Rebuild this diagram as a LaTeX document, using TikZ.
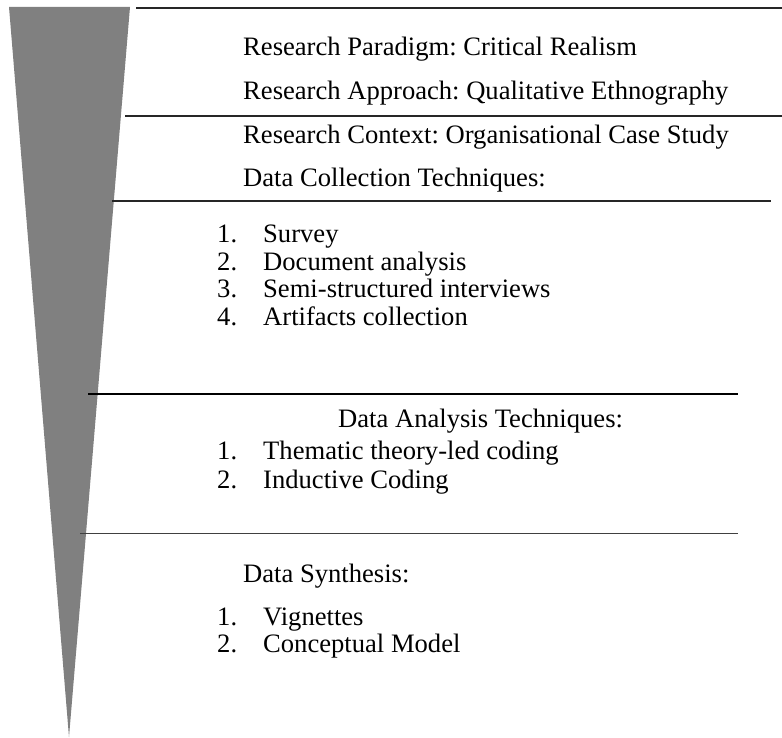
\documentclass[tikz,border=0pt]{standalone}
\usepackage{fontspec}
\setmainfont{Liberation Serif}
\frenchspacing
\begin{document}
\begin{tikzpicture}[x=1pt,y=-1pt,
  txt/.style={anchor=base west,inner sep=0pt,font=\fontsize{26.6}{30}\selectfont},
  rule/.style={line width=1.3pt,draw=black!85},
  heavyrule/.style={line width=2.2pt,draw=black},
  softrule/.style={line width=1.5pt,draw=black!75}]
\useasboundingbox (0,0) rectangle (782,738);

% narrowing wedge on the left
\fill[gray] (9,7) -- (130,7) -- (69,737) -- cycle;

% section rules
\draw[rule] (136,8) -- (782,8);
\draw[rule] (125,116) -- (782,116);
\draw[rule] (112,201) -- (771,201);
\draw[heavyrule] (88,394) -- (738,394);
\draw[softrule] (80,533.5) -- (738,533.5);

% headings
\node[txt] (paradigm) at (243,56)   {Research Paradigm: Critical Realism};
\node[txt] (approach) at (243,100)  {Research Approach: Qualitative Ethnography};
\node[txt] (context)  at (243,143.5){Research Context: Organisational Case Study};
\node[txt] (collect)  at (243,187)  {Data Collection Techniques:};

% data collection list
\node[txt] (c1n) at (217,242.5) {1.};
\node[txt] (c1)  at (263,242.5) {Survey};
\node[txt] (c2n) at (217,270) {2.};
\node[txt] (c2)  at (263,270) {Document analysis};
\node[txt] (c3n) at (217,297.5) {3.};
\node[txt] (c3)  at (263,297.5) {Semi-structured interviews};
\node[txt] (c4n) at (217,325) {4.};
\node[txt] (c4)  at (263,325) {Artifacts collection};

% data analysis
\node[txt] (analysis) at (338,427) {Data Analysis Techniques:};
\node[txt] (a1n) at (217,459) {1.};
\node[txt] (a1)  at (263,459) {Thematic theory-led coding};
\node[txt] (a2n) at (217,488) {2.};
\node[txt] (a2)  at (263,488) {Inductive Coding};

% data synthesis
\node[txt] (synth) at (243,582) {Data Synthesis:};
\node[txt] (s1n) at (217,625) {1.};
\node[txt] (s1)  at (263,625) {Vignettes};
\node[txt] (s2n) at (217,652) {2.};
\node[txt] (s2)  at (263,652) {Conceptual Model};
\end{tikzpicture}
\end{document}
